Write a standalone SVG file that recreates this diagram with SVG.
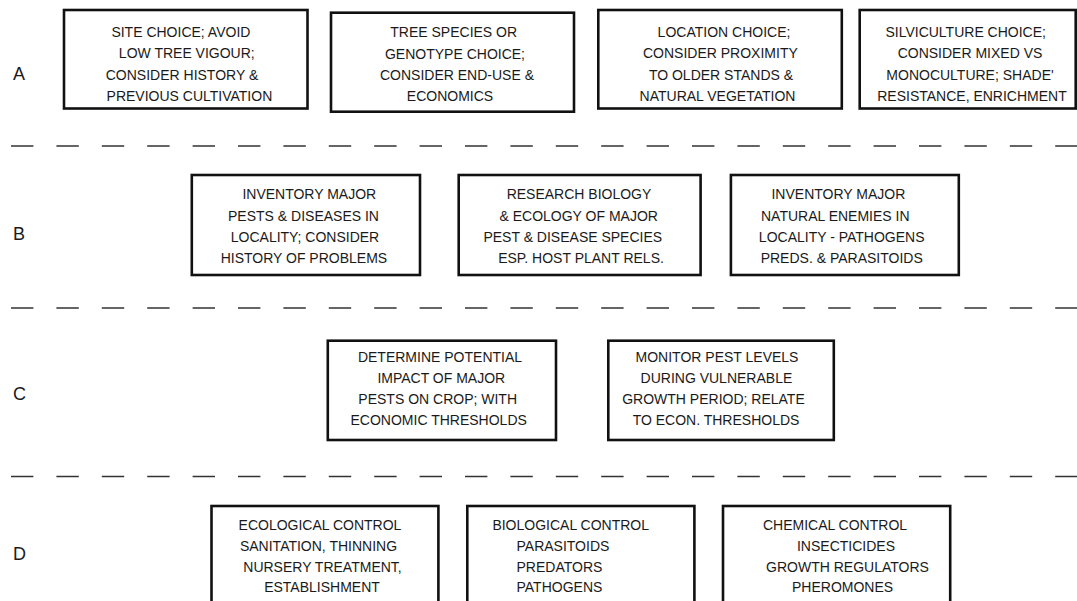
<svg xmlns="http://www.w3.org/2000/svg" width="1077" height="601" viewBox="0 0 1077 601">
<style>
.bg{fill:#fff}
.box{fill:#fff;stroke:#111;stroke-width:2.6}
.t{font-family:"Liberation Sans",Arial,sans-serif;font-size:14px;fill:#1a1a1a;text-anchor:middle}
.ts{font-family:"Liberation Sans",Arial,sans-serif;font-size:14px;fill:#1a1a1a;text-anchor:start}
.lab{font-family:"Liberation Sans",Arial,sans-serif;font-size:18px;fill:#1a1a1a}
.dash{stroke:#333;stroke-width:1.6;stroke-dasharray:22.4 23;fill:none}
</style>
<rect class="bg" x="0" y="0" width="1077" height="601"/>
<g id="row-labels">
<text class="lab" x="13" y="79.5">A</text>
<text class="lab" x="13" y="239.5">B</text>
<text class="lab" x="13" y="399.5">C</text>
<text class="lab" x="13" y="559.5">D</text>
</g>
<g id="connectors">
<line class="dash" x1="11" y1="146" x2="1077" y2="146"/>
<line class="dash" x1="11" y1="308" x2="1077" y2="308"/>
<line class="dash" x1="11" y1="476.5" x2="1077" y2="476.5"/>
</g>
<g id="A1">
<rect class="box" x="64" y="10" width="243.5" height="98.5"/>
<text class="t" x="180.9" y="36.7">SITE CHOICE; AVOID</text>
<text class="t" x="186.8" y="58.3">LOW TREE VIGOUR;</text>
<text class="t" x="182" y="80">CONSIDER HISTORY &amp;</text>
<text class="t" x="189.4" y="100.7">PREVIOUS CULTIVATION</text>
</g>
<g id="A2">
<rect class="box" x="331" y="12.7" width="243" height="99"/>
<text class="t" x="453.7" y="37">TREE SPECIES OR</text>
<text class="t" x="455" y="58.5">GENOTYPE CHOICE;</text>
<text class="t" x="457" y="80">CONSIDER END-USE &amp;</text>
<text class="t" x="450" y="100.7">ECONOMICS</text>
</g>
<g id="A3">
<rect class="box" x="598.3" y="10" width="243.5" height="98.5"/>
<text class="t" x="724" y="37">LOCATION CHOICE;</text>
<text class="t" x="720.4" y="58">CONSIDER PROXIMITY</text>
<text class="t" x="721" y="79.5">TO OLDER STANDS &amp;</text>
<text class="t" x="717.5" y="100.5">NATURAL VEGETATION</text>
</g>
<g id="A4">
<rect class="box" x="859.7" y="10" width="216" height="98.5"/>
<text class="t" x="965.7" y="37">SILVICULTURE CHOICE;</text>
<text class="t" x="970" y="58">CONSIDER MIXED VS</text>
<text class="t" x="970" y="79.5">MONOCULTURE; SHADE'</text>
<text class="t" x="972" y="100.5">RESISTANCE, ENRICHMENT</text>
</g>
<g id="B1">
<rect class="box" x="191.8" y="175" width="228.2" height="100"/>
<text class="t" x="309.3" y="199.3">INVENTORY MAJOR</text>
<text class="t" x="303.5" y="220.7">PESTS &amp; DISEASES IN</text>
<text class="t" x="305" y="242.3">LOCALITY; CONSIDER</text>
<text class="t" x="303.9" y="262.7">HISTORY OF PROBLEMS</text>
</g>
<g id="B2">
<rect class="box" x="458.7" y="175" width="241.9" height="100"/>
<text class="t" x="579" y="199.3">RESEARCH BIOLOGY</text>
<text class="t" x="578.7" y="220.7">&amp; ECOLOGY OF MAJOR</text>
<text class="t" x="572.8" y="242.3">PEST &amp; DISEASE SPECIES</text>
<text class="t" x="581" y="262.7">ESP. HOST PLANT RELS.</text>
</g>
<g id="B3">
<rect class="box" x="730.9" y="175" width="227.9" height="100"/>
<text class="t" x="838.4" y="199.3">INVENTORY MAJOR</text>
<text class="t" x="835.3" y="220.7">NATURAL ENEMIES IN</text>
<text class="t" x="841.7" y="242.3">LOCALITY - PATHOGENS</text>
<text class="t" x="841.7" y="262.7">PREDS. &amp; PARASITOIDS</text>
</g>
<g id="C1">
<rect class="box" x="327.8" y="340.7" width="228.2" height="99.3"/>
<text class="t" x="440" y="362">DETERMINE POTENTIAL</text>
<text class="t" x="441.3" y="383.3">IMPACT OF MAJOR</text>
<text class="t" x="437.7" y="404">PESTS ON CROP; WITH</text>
<text class="t" x="438.7" y="425">ECONOMIC THRESHOLDS</text>
</g>
<g id="C2">
<rect class="box" x="608.3" y="340.7" width="225.5" height="99.3"/>
<text class="t" x="717" y="362">MONITOR PEST LEVELS</text>
<text class="t" x="716.4" y="383.3">DURING VULNERABLE</text>
<text class="t" x="713.5" y="404">GROWTH PERIOD; RELATE</text>
<text class="t" x="716" y="425">TO ECON. THRESHOLDS</text>
</g>
<g id="D1">
<rect class="box" x="211.5" y="506" width="226.9" height="110"/>
<text class="t" x="320" y="530">ECOLOGICAL CONTROL</text>
<text class="t" x="318.5" y="551">SANITATION, THINNING</text>
<text class="t" x="322.5" y="571.5">NURSERY TREATMENT,</text>
<text class="t" x="322" y="592">ESTABLISHMENT</text>
</g>
<g id="D2">
<rect class="box" x="467.3" y="506" width="227.1" height="110"/>
<text class="ts" x="492.4" y="530">BIOLOGICAL CONTROL</text>
<text class="ts" x="516.5" y="551">PARASITOIDS</text>
<text class="ts" x="516.5" y="571.5">PREDATORS</text>
<text class="ts" x="516.5" y="592">PATHOGENS</text>
</g>
<g id="D3">
<rect class="box" x="723" y="506" width="227.2" height="110"/>
<text class="t" x="835" y="530">CHEMICAL CONTROL</text>
<text class="t" x="846" y="551">INSECTICIDES</text>
<text class="t" x="847.5" y="571.5">GROWTH REGULATORS</text>
<text class="t" x="842.6" y="592">PHEROMONES</text>
</g>
</svg>
